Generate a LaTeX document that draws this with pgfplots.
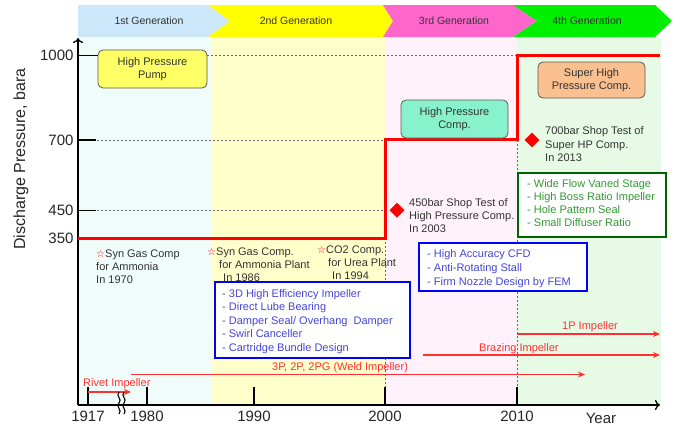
\documentclass[border=0pt]{standalone}
\usepackage{pgfplots}
\pgfplotsset{compat=1.18}
\usepackage{fontspec}
\setmainfont{Liberation Sans}
\newfontfamily\djv{DejaVu Sans}
\usetikzlibrary{arrows.meta}
\definecolor{bgA}{HTML}{F0FCFA}
\definecolor{bgB}{HTML}{FFFFCC}
\definecolor{bgC}{HTML}{FFF2FA}
\definecolor{bgD}{HTML}{E6FAE6}
\definecolor{bnA}{HTML}{CCE8FA}
\definecolor{bnB}{HTML}{FFFF00}
\definecolor{bnC}{HTML}{FF66CC}
\definecolor{bnD}{HTML}{00F000}
\definecolor{pumpc}{HTML}{FFFF66}
\definecolor{hpc}{HTML}{88F2CC}
\definecolor{shpc}{HTML}{FAC090}
\definecolor{txt}{HTML}{333333}
\definecolor{bltxt}{HTML}{4646D2}
\definecolor{grtxt}{HTML}{339933}
\definecolor{grbox}{HTML}{006400}
\definecolor{arr}{HTML}{FF3030}
\newcommand{\af}{\fontsize{11}{13.5}\selectfont}
\newcommand{\st}{{\djv\color{red}\fontsize{10}{10}\selectfont ☆}}
\begin{document}
\begin{tikzpicture}
\begin{scope}[x=1pt,y=-1pt]
% background columns
\fill[bgA] (78,37) rectangle (212,405);
\fill[bgB] (212,37) rectangle (385,405);
\fill[bgC] (385,37) rectangle (517,405);
\fill[bgD] (517,37) rectangle (661,405);
% banners
\fill[bnA] (78,5) -- (208,5) -- (230,21) -- (208,37) -- (78,37) -- cycle;
\fill[bnB] (208,5) -- (383,5) -- (393,21) -- (383,37) -- (208,37) -- (230,21) -- cycle;
\fill[bnC] (383,5) -- (513,5) -- (537,21) -- (513,37) -- (383,37) -- (393,21) -- cycle;
\fill[bnD] (513,5) -- (655,5) -- (672,21) -- (655,37) -- (513,37) -- (537,21) -- cycle;
\begin{scope}[every node/.style={font=\fontsize{10.5}{12}\selectfont, text=txt, inner sep=0pt}]
\node at (149,21) {1st Generation};
\node at (296,21) {2nd Generation};
\node at (454,21) {3rd Generation};
\node at (587,21) {4th Generation};
\end{scope}
\end{scope}
\begin{axis}[
  at={(78pt,-405pt)}, anchor=south west,
  scale only axis, width=582pt, height=367pt,
  xmin=78, xmax=660, ymin=-243.5, ymax=1063,
  axis lines=left, clip=false,
  axis line style={line width=1.3pt, black, -{To[length=5pt,width=10pt,line width=1.3pt]}},
  xtick={88,147,254,385,517}, xticklabels={1917,1980,1990,2000,2010},
  ytick={350,450,700}, extra y ticks={1000},
  extra y tick style={major tick length=20pt, tick style={line width=0.7pt}},
  tick align=inside, major tick length=18pt,
  tick style={black, line width=1.3pt},
  ticklabel style={font=\fontsize{15}{15}\selectfont, text=black!85},
  /pgf/number format/assume math mode=true,
  /pgf/number format/1000 sep={},
  xticklabel style={yshift=-2pt},
  yticklabel style={xshift=-1pt},
]
% dashed guide lines
\addplot[gray!80!black, dashed, line width=0.6pt, dash pattern=on 2pt off 2pt] coordinates {(97,700) (385,700)};
\addplot[gray!80!black, dashed, line width=0.6pt, dash pattern=on 2pt off 2pt] coordinates {(97,450) (385,450)};
\addplot[gray!80!black, dashed, line width=0.6pt, dash pattern=on 2pt off 2pt] coordinates {(207,1000) (517,1000)};
\addplot[gray!80!black, dashed, line width=0.6pt, dash pattern=on 2pt off 2pt] coordinates {(385,350) (385,-181)};
\addplot[gray!80!black, dashed, line width=0.6pt, dash pattern=on 2pt off 2pt] coordinates {(517,700) (517,-181)};
% pressure step line
\addplot[red, line width=3pt, const plot, line join=miter] coordinates {(78,350) (385,700) (517,1000) (660,1000)};
% shop tests
\addplot[only marks, mark=square*, mark size=5pt, mark options={rotate=45, fill=red, draw=red}] coordinates {(397,450) (532,700)};
% impeller arrows
\addplot[arr, line width=1.6pt, -{Stealth[length=7pt,width=6pt]}] coordinates {(88,-197) (131,-197)};
\addplot[arr, line width=1.6pt, -{Stealth[length=7pt,width=6pt]}] coordinates {(131,-135) (585,-135)};
\addplot[arr, line width=1.6pt, -{Stealth[length=7pt,width=6pt]}] coordinates {(423,-65.5) (660,-65.5)};
\addplot[arr, line width=1.6pt, -{Stealth[length=7pt,width=6pt]}] coordinates {(517,9.3) (660,9.3)};
\end{axis}
\begin{scope}[x=1pt,y=-1pt]
% axis break
\draw[black, line width=1.1pt] (119,392) .. controls (115,396) and (123,399) .. (119,403) .. controls (115,407) and (123,410) .. (119,414);
\draw[black, line width=1.1pt] (124,392) .. controls (120,396) and (128,399) .. (124,403) .. controls (120,407) and (128,410) .. (124,414);
% labels
\node[rotate=90, font=\fontsize{16}{16}\selectfont, text=black!85] at (21,159) {Discharge Pressure, bara};
\node[font=\fontsize{15}{15}\selectfont, text=black!85] at (601,418) {Year};
% rounded boxes
\node[draw=gray!70!black, line width=0.8pt, fill=pumpc, rounded corners=5pt, minimum width=109pt, minimum height=38pt, align=center, font=\af, text=txt, inner sep=0pt] at (152.5,69) {High Pressure\\Pump};
\node[draw=gray!70!black, line width=0.8pt, fill=hpc, rounded corners=5pt, minimum width=107pt, minimum height=38pt, align=center, font=\af, text=txt, inner sep=0pt] at (454.5,119) {High Pressure\\Comp.};
\node[draw=gray!70!black, line width=0.8pt, fill=shpc, rounded corners=5pt, minimum width=107pt, minimum height=36pt, align=center, font=\af, text=txt, inner sep=0pt] at (591.5,80) {Super High\\Pressure Comp.};
% blue and green boxes
\draw[blue, line width=2.2pt, fill=white] (215,282) rectangle (410,358);
\draw[blue, line width=2.2pt, fill=white] (419,243) rectangle (587,291);
\draw[grbox, line width=2.2pt, fill=white] (518,173) rectangle (666,237);
\begin{scope}[every node/.style={font=\af, inner sep=0pt, anchor=base west}]
\node[text=bltxt] at (222,297) {- 3D High Efficiency Impeller};
\node[text=bltxt] at (222,310.5) {- Direct Lube Bearing};
\node[text=bltxt] at (222,324) {- Damper Seal/ Overhang\ \ Damper};
\node[text=bltxt] at (222,337.5) {- Swirl Canceller};
\node[text=bltxt] at (222,351) {- Cartridge Bundle Design};
\node[text=bltxt] at (427,257) {- High Accuracy CFD};
\node[text=bltxt] at (427,271) {- Anti-Rotating Stall};
\node[text=bltxt] at (427,285) {- Firm Nozzle Design by FEM};
\node[text=grtxt] at (527,187) {- Wide Flow Vaned Stage};
\node[text=grtxt] at (527,200) {- High Boss Ratio Impeller};
\node[text=grtxt] at (527,213) {- Hole Pattern Seal};
\node[text=grtxt] at (527,226) {- Small Diffuser Ratio};
% milestones
\node[text=txt] at (96,257) {\st Syn Gas Comp};
\node[text=txt] at (96,270) {for Ammonia};
\node[text=txt] at (96,283) {In 1970};
\node[text=txt] at (207,255) {\st Syn Gas Comp.};
\node[text=txt] at (219,268) {for Ammonia Plant};
\node[text=txt] at (223,281) {In 1986};
\node[text=txt] at (317,253) {\st CO2 Comp.};
\node[text=txt] at (328,266) {for Urea Plant};
\node[text=txt] at (332,279) {In 1994};
\node[text=txt] at (409,206) {450bar Shop Test of};
\node[text=txt] at (409,219) {High Pressure Comp.};
\node[text=txt] at (409,232) {In 2003};
\node[text=txt] at (545,134) {700bar Shop Test of};
\node[text=txt] at (545,148) {Super HP Comp.};
\node[text=txt] at (545,161) {In 2013};
% impeller labels
\node[text=arr] at (83,386) {Rivet Impeller};
\node[text=arr] at (272,370) {3P, 2P, 2PG (Weld Impeller)};
\node[text=arr] at (479,351) {Brazing Impeller};
\node[text=arr] at (562,329) {1P Impeller};
\end{scope}
\pgfresetboundingbox
\useasboundingbox (0,0) rectangle (680,434);
\end{scope}
\end{tikzpicture}
\end{document}
